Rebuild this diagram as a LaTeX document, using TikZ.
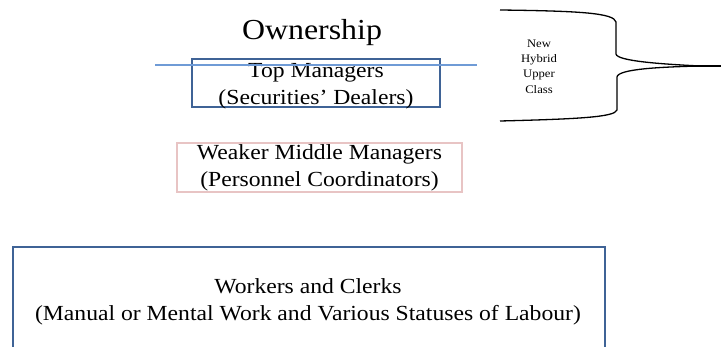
\documentclass[tikz,border=0pt]{standalone}
\usepackage{fontspec}
\setmainfont{Liberation Serif}[FakeStretch=1.1]
\definecolor{boxblue}{HTML}{3F6396}
\definecolor{lineblue}{HTML}{6F9BD6}
\definecolor{boxpink}{HTML}{E8C4C4}
\begin{document}
\begin{tikzpicture}[x=1pt,y=-1pt,
  bigtext/.style={inner sep=0pt,align=center,font=\fontsize{21.5}{27}\selectfont,anchor=base},
  titletext/.style={inner sep=0pt,font=\fontsize{29}{35}\selectfont,anchor=base},
  smalltext/.style={inner sep=0pt,align=center,font=\fontsize{11.5}{15.3}\selectfont,anchor=base},
  bluebox/.style={draw=boxblue,line width=2pt,inner sep=0pt,rectangle},
  pinkbox/.style={draw=boxpink,line width=1.5pt,inner sep=0pt,rectangle},
  hline/.style={draw=lineblue,line width=2pt},
  bracepath/.style={draw=black,line width=1.3pt}]
\useasboundingbox (0,0) rectangle (721,347);
\clip (0,0) rectangle (721,347);
\fill[white] (0,0) rectangle (721,347);
% title
\node[titletext] (own) at (312,40) {Ownership};
% top managers box
\node[bluebox,minimum width=248pt,minimum height=48.5pt] (topbox) at (316,83) {};
\node[bigtext] (toptext) at (316,104.5) {Top Managers\\(Securities’ Dealers)};
% blue line
\coordinate (la) at (155,65.5);
\coordinate (lb) at (477,65.5);
\path[hline] (la) -- (lb);
% middle managers
\node[pinkbox,minimum width=285pt,minimum height=49pt] (midbox) at (319.5,167.5) {};
\node[bigtext] (midtext) at (319.5,186.5) {Weaker Middle Managers\\(Personnel Coordinators)};
% workers
\node[bluebox,minimum width=592.3pt,minimum height=130pt,anchor=north west] (workbox) at (11.7,246) {};
\node[bigtext] (worktext) at (308,321) {Workers and Clerks\\(Manual or Mental Work and Various Statuses of Labour)};
% brace
\draw[bracepath] (500,10) .. controls (580,11) and (614,13) .. (616,22) -- (616,54)
  .. controls (617,61) and (660,64) .. (700,66) -- (721,66);
\draw[bracepath] (700,66) .. controls (660,67) and (618,69) .. (617,77) -- (617,110)
  .. controls (615,117) and (580,119) .. (500,121);
\draw[line width=2.6pt] (685,66) -- (721,66);
\node[smalltext] (brtext) at (539,93.2) {New\\Hybrid\\Upper\\Class};
\end{tikzpicture}
\end{document}
